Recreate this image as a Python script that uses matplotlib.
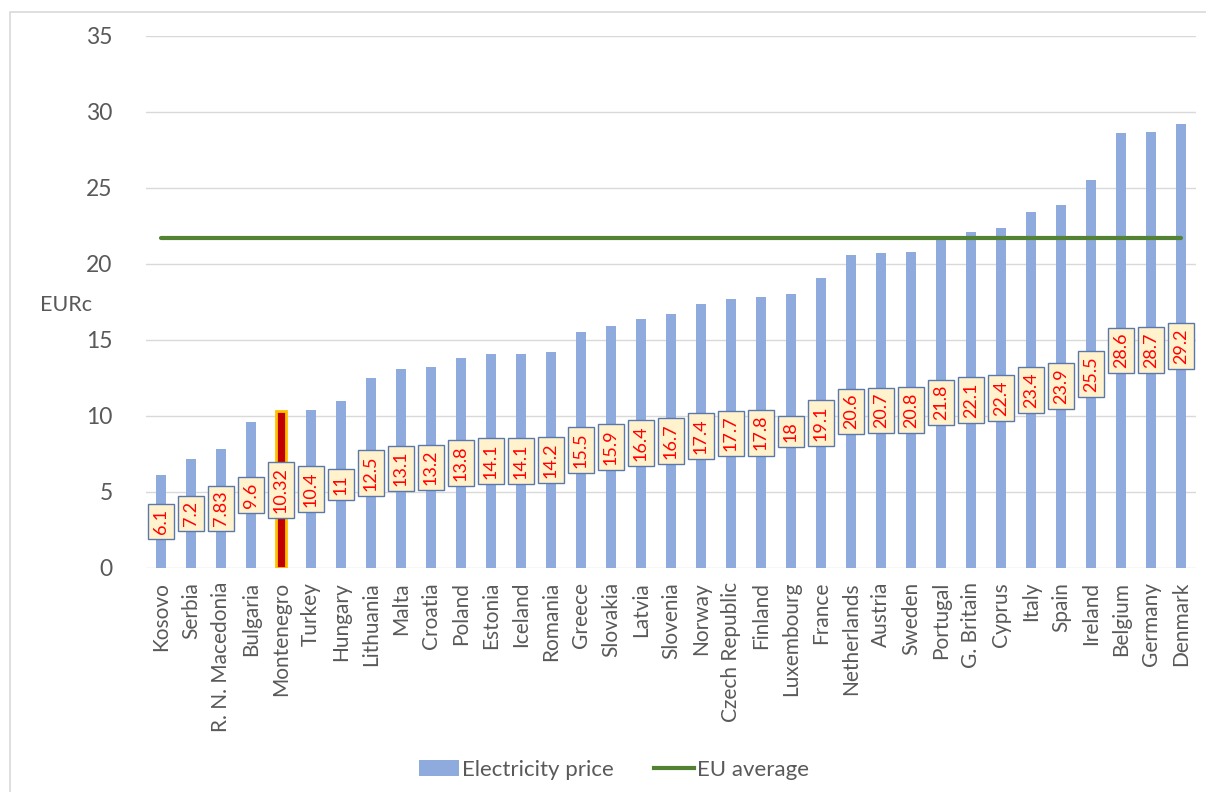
import matplotlib.pyplot as plt
from matplotlib.patches import Rectangle
from matplotlib.lines import Line2D

countries = ["Kosovo", "Serbia", "R. N. Macedonia", "Bulgaria", "Montenegro", "Turkey",
             "Hungary", "Lithuania", "Malta", "Croatia", "Poland", "Estonia", "Iceland",
             "Romania", "Greece", "Slovakia", "Latvia", "Slovenia", "Norway",
             "Czech Republic", "Finland", "Luxembourg", "France", "Netherlands", "Austria",
             "Sweden", "Portugal", "G. Britain", "Cyprus", "Italy", "Spain", "Ireland",
             "Belgium", "Germany", "Denmark"]
prices = [6.1, 7.2, 7.83, 9.6, 10.32, 10.4, 11, 12.5, 13.1, 13.2, 13.8, 14.1, 14.1,
          14.2, 15.5, 15.9, 16.4, 16.7, 17.4, 17.7, 17.8, 18, 19.1, 20.6, 20.7, 20.8,
          21.8, 22.1, 22.4, 23.4, 23.9, 25.5, 28.6, 28.7, 29.2]
price_labels = ["6.1", "7.2", "7.83", "9.6", "10.32", "10.4", "11", "12.5", "13.1", "13.2",
                "13.8", "14.1", "14.1", "14.2", "15.5", "15.9", "16.4", "16.7", "17.4",
                "17.7", "17.8", "18", "19.1", "20.6", "20.7", "20.8", "21.8", "22.1",
                "22.4", "23.4", "23.9", "25.5", "28.6", "28.7", "29.2"]
eu_average = 21.7
highlight = "Montenegro"
y_ticks = [0, 5, 10, 15, 20, 25, 30, 35]

plt.rcParams['font.family'] = ['Lato', 'DejaVu Sans']
TXT = '#595959'
BLUE = '#8FAADC'

fig = plt.figure(figsize=(12.06, 7.92), dpi=100)
fig.patch.set_facecolor('white')
# outer chart frame
fig.patches.append(Rectangle((10 / 1206, -0.02), 1.05, (792 - 12) / 792 + 0.02,
                             transform=fig.transFigure, fill=False,
                             edgecolor='#D9D9D9', linewidth=1.2))

ax = fig.add_axes([146 / 1206, 1 - 568 / 792, (1196 - 146) / 1206, (568 - 36) / 792])
x = list(range(len(countries)))

colors = ['#C00000' if c == highlight else BLUE for c in countries]
edges = ['#FFC000' if c == highlight else BLUE for c in countries]
ax.bar(x, prices, width=0.34, color=colors, edgecolor=edges,
       linewidth=[2 if c == highlight else 0 for c in countries], zorder=2)

ax.plot([x[0], x[-1]], [eu_average, eu_average], color='#548235', linewidth=3,
        solid_capstyle='round', zorder=3)

for xi, v, lab in zip(x, prices, price_labels):
    ax.text(xi, v / 2, lab, rotation=90, ha='center', va='center', fontsize=13,
            color='#FF0000', zorder=4,
            bbox=dict(boxstyle='square,pad=0.28', facecolor='#FFF2CC',
                      edgecolor='#5A78AA', linewidth=1))

ax.set_xlim(-0.5, len(countries) - 0.5)
ax.set_ylim(0, 35)
ax.set_yticks(y_ticks)
ax.set_yticklabels([str(t) for t in y_ticks], fontsize=16.5, color=TXT)
ax.set_xticks(x)
ax.set_xticklabels(countries, rotation=90, fontsize=15, color=TXT)
ax.tick_params(axis='y', length=0, pad=24)
ax.tick_params(axis='x', length=0, pad=10)
ax.yaxis.grid(True, color='#D9D9D9', linewidth=1)
ax.set_axisbelow(True)
for s in ax.spines.values():
    s.set_visible(False)

fig.text(66 / 1206, 1 - 305 / 792, "EURc", ha='center', va='center', fontsize=15.5, color=TXT)

handles = [Rectangle((0, 0), 1, 1, facecolor=BLUE, edgecolor='none'),
           Line2D([0], [0], color='#548235', linewidth=3)]
fig.legend(handles, ["Electricity price", "EU average"], loc='center',
           bbox_to_anchor=(614 / 1206, 1 - 770 / 792), ncol=2, frameon=False,
           fontsize=16, labelcolor=TXT, handlelength=1.8, handletextpad=0.15,
           columnspacing=1.8)

fig.savefig('out.png', dpi=100, facecolor='white')
